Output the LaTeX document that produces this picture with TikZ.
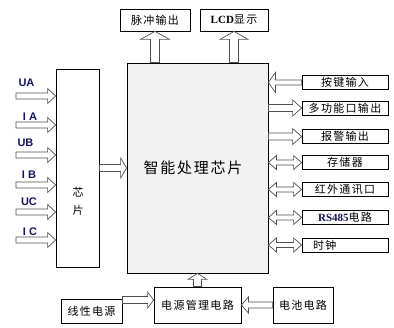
\documentclass[tikz,border=0pt]{standalone}
\usepackage{fontspec}
\setmainfont{Liberation Serif}
\newfontfamily\cjk[LetterSpace=12]{Noto Sans CJK SC}
\newfontfamily\lab{Liberation Sans}
\usetikzlibrary{calc}
\definecolor{navy}{rgb}{0.08,0.08,0.35}
\definecolor{mainfill}{HTML}{F2F2F2}
\definecolor{arrline}{HTML}{505050}
% hollow arrows: #1 tail, #2 tip, #3 shaft half width, #4 head half width, #5 head length
\newcommand\arrR[5]{\draw[harrow] ($(#1)+(0,-#3)$) -- ($(#2)+(-#5,-#3)$) -- ($(#2)+(-#5,-#4)$) -- (#2) -- ($(#2)+(-#5,#4)$) -- ($(#2)+(-#5,#3)$) -- ($(#1)+(0,#3)$) -- cycle;}
\newcommand\arrL[5]{\draw[harrow] ($(#1)+(0,-#3)$) -- ($(#2)+(#5,-#3)$) -- ($(#2)+(#5,-#4)$) -- (#2) -- ($(#2)+(#5,#4)$) -- ($(#2)+(#5,#3)$) -- ($(#1)+(0,#3)$) -- cycle;}
\newcommand\arrU[5]{\draw[harrow] ($(#1)+(-#3,0)$) -- ($(#2)+(-#3,#5)$) -- ($(#2)+(-#4,#5)$) -- (#2) -- ($(#2)+(#4,#5)$) -- ($(#2)+(#3,#5)$) -- ($(#1)+(#3,0)$) -- cycle;}
\newcommand\arrLR[5]{\draw[harrow] (#1) -- ($(#1)+(#5,-#4)$) -- ($(#1)+(#5,-#3)$) -- ($(#2)+(-#5,-#3)$) -- ($(#2)+(-#5,-#4)$) -- (#2) -- ($(#2)+(-#5,#4)$) -- ($(#2)+(-#5,#3)$) -- ($(#1)+(#5,#3)$) -- ($(#1)+(#5,#4)$) -- cycle;}
\begin{document}
\begin{tikzpicture}[x=1pt,y=-1pt,
  box/.style={draw, line width=0.8pt, inner sep=0pt, fill=white, font=\cjk\fontsize{11}{11}\selectfont},
  rbox/.style={box, minimum width=86pt, minimum height=14pt},
  harrow/.style={draw=arrline, line width=0.7pt, fill=white, line join=miter},
  lbl/.style={font=\lab\bfseries\fontsize{11}{11}\selectfont, text=navy, inner sep=0pt}]
\useasboundingbox (0,0) rectangle (394,328);
% main blocks
\node[box, fill=mainfill, minimum width=141pt, minimum height=210pt] (main) at (197.5,168) {};
\node[font=\cjk\fontsize{15}{15}\selectfont, inner sep=0pt] (title) at (193,168) {智能处理芯片};
\node[box, minimum width=43pt, minimum height=198pt] (chip) at (77.5,168) {};
\node[font=\cjk\fontsize{11}{18}\selectfont, align=center, inner sep=0pt] (chiptxt) at (78,201) {芯\\片};
% top
\node[box, minimum width=70pt, minimum height=22pt] (pulse) at (155,20) {脉冲输出};
\node[box, minimum width=68pt, minimum height=22pt] (lcd) at (234,20) {{\rmfamily\bfseries LCD}显示};
% right
\node[rbox] (b1) at (345,82.5) {按键输入};
\node[rbox] (b2) at (345,108) {多功能口输出};
\node[rbox] (b3) at (345,136.5) {报警输出};
\node[rbox] (b4) at (345,162.5) {存储器};
\node[rbox] (b5) at (345,189.5) {红外通讯口};
\node[rbox] (b6) at (345,217.5) {{\rmfamily\bfseries\color{navy}RS485}电路};
\node[rbox, text width=64pt, align=left] (b7) at (345,245) {时钟};
% bottom
\node[box, minimum width=61pt, minimum height=24pt] (lin) at (91.5,311) {线性电源};
\node[box, minimum width=87pt, minimum height=36pt] (pm) at (197.5,305) {电源管理电路};
\node[box, minimum width=60pt, minimum height=36pt] (bat) at (303,305) {电池电路};
% input labels
\node[lbl] (lUA) at (26.5,82.5) {UA};
\node[lbl] (lIA) at (30,117) {I A};
\node[lbl] (lUB) at (25.5,142.5) {UB};
\node[lbl] (lIB) at (29,175) {I B};
\node[lbl] (lUC) at (29,202) {UC};
\node[lbl] (lIC) at (30,232) {I C};
% input arrows
\foreach \n/\y in {UA/96,IA/125,UB/155,IB/185,UC/212,IC/240}{
  \coordinate (t\n) at (16,\y);
  \coordinate (h\n) at (chip.west |- t\n);
  \arrR{t\n}{h\n}{3}{7.5}{8}
}
% chip to main
\coordinate (cm1) at (chip.east |- 0,168);
\coordinate (cm2) at (main.west |- 0,168);
\arrR{cm1}{cm2}{3.5}{10}{6}
% top arrows
\coordinate (p1) at (main.north -| pulse.south);
\coordinate (l1) at (main.north -| lcd.south);
\arrU{p1}{pulse.south}{4.5}{14.5}{8}
\arrU{l1}{lcd.south}{4.5}{14}{8}
% right arrows
\foreach \b in {b1,b2,b3,b4,b5,b6,b7}{
  \coordinate (m\b) at (main.east |- \b.west);
}
\arrL{b1.west}{mb1}{2.5}{10}{7}
\arrR{mb2}{b2.west}{3.5}{8}{9}
\arrR{mb3}{b3.west}{3.5}{8}{9}
\foreach \b in {b4,b5,b6,b7}{
  \arrLR{m\b}{\b.west}{2.5}{7}{8}
}
% bottom arrows
\coordinate (lp1) at ($(lin.north east)+(0,1.5)$);
\coordinate (lp2) at (pm.west |- lp1);
\arrR{lp1}{lp2}{3.5}{8}{6}
\coordinate (pmtop) at (pm.north);
\coordinate (mbot) at (main.south -| pm.north);
\arrU{pmtop}{mbot}{4}{9.5}{6}
\arrL{bat.west}{pm.east}{3}{8}{7}
\end{tikzpicture}
\end{document}
